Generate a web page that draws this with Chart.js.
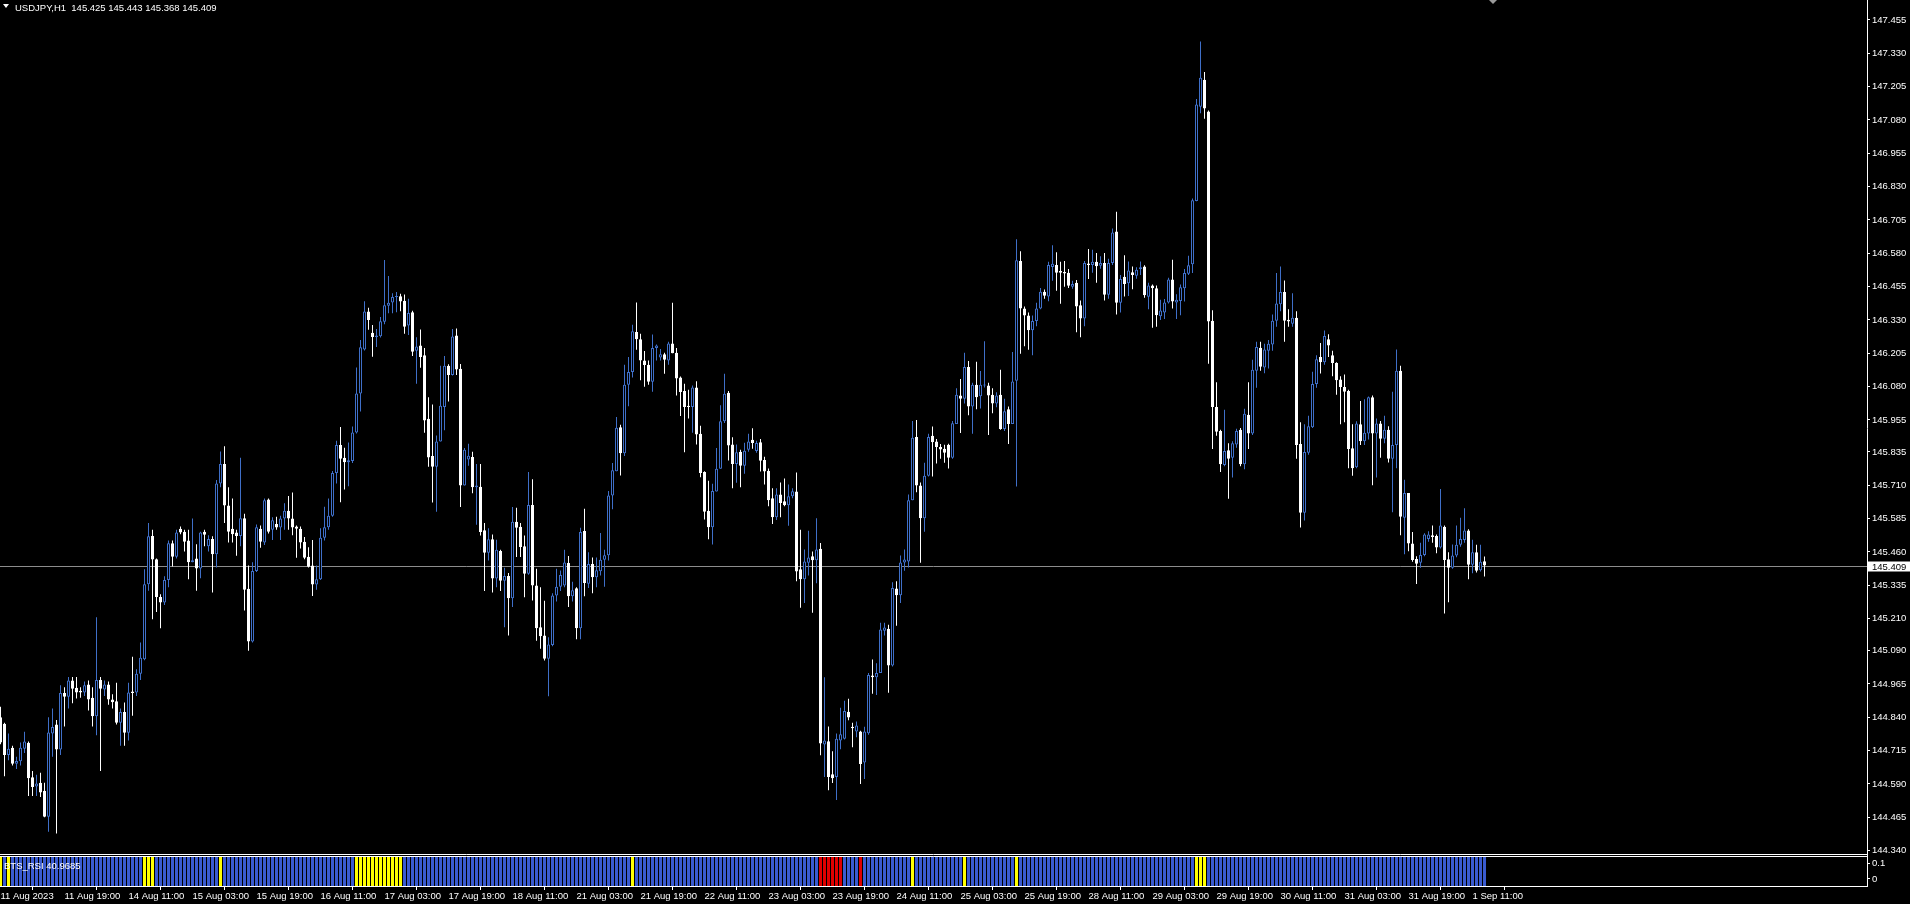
<!DOCTYPE html>
<html>
<head>
<meta charset="utf-8">
<title>USDJPY,H1</title>
<script src="https://cdn.jsdelivr.net/npm/chart.js@4.4.1/dist/chart.umd.min.js"></script>
<style>
  html, body { margin: 0; padding: 0; background: #000; overflow: hidden; }
  #wrap { position: relative; width: 1910px; height: 904px; }
  canvas { position: absolute; left: 0; display: block; }
  #main { top: 0; }
  #ind { top: 856px; }
  .txt { position: absolute; color: #fff; font: 9.5px "Liberation Sans", Arial, sans-serif; white-space: pre; line-height: 12px; z-index: 2; }
  #tri { position: absolute; left: 3px; top: 4px; width: 0; height: 0;
         border-left: 3px solid transparent; border-right: 3px solid transparent; border-top: 4px solid #fff; }
</style>
</head>
<body>
<div id="wrap">
  <canvas id="main" width="1910" height="856"></canvas>
  <canvas id="ind" width="1910" height="48"></canvas>
  <div id="tri"></div>
  <div class="txt" id="title" style="left:15px; top:2px;"></div>
  <div class="txt" id="indName" style="left:4px; top:860px;"></div>
</div>
<script>
/* ===== USDJPY H1 candles + BTS_RSI histogram ===== */

const SYMBOL = 'USDJPY,H1';
const INDICATOR = 'BTS_RSI';
const INDICATOR_VALUE = 40.9685;

const OPEN = [
  144.840, 144.816, 144.699, 144.726, 144.666, 144.675, 144.722, 144.745, 144.615, 144.581,
  144.595, 144.565, 144.467, 144.779, 144.813, 144.719, 144.931, 144.917, 144.978, 144.951,
  144.940, 144.933, 144.963, 144.913, 144.844, 144.980, 144.944, 144.963, 144.907, 144.900,
  144.820, 144.860, 144.782, 144.937, 144.933, 145.003, 145.058, 145.339, 145.520, 145.433,
  145.291, 145.271, 145.355, 145.493, 145.442, 145.547, 145.536, 145.503, 145.422, 145.436,
  145.398, 145.536, 145.482, 145.509, 145.452, 145.717, 145.790, 145.634, 145.547, 145.533,
  145.520, 145.587, 145.322, 145.124, 145.389, 145.547, 145.496, 145.657, 145.543, 145.565,
  145.552, 145.586, 145.615, 145.586, 145.556, 145.547, 145.498, 145.442, 145.409, 145.338,
  145.358, 145.513, 145.553, 145.596, 145.756, 145.861, 145.813, 145.797, 145.801, 145.908,
  146.054, 146.219, 146.362, 146.282, 146.266, 146.269, 146.323, 146.383, 146.396, 146.416,
  146.419, 146.402, 146.309, 146.359, 146.215, 146.234, 146.198, 145.960, 145.820, 145.780,
  145.874, 146.004, 146.158, 146.124, 146.272, 146.147, 145.709, 145.807, 145.816, 145.703,
  145.705, 145.542, 145.457, 145.508, 145.361, 145.464, 145.352, 145.370, 145.287, 145.573,
  145.555, 145.482, 145.378, 145.636, 145.334, 145.178, 145.147, 145.060, 145.111, 145.297,
  145.330, 145.334, 145.419, 145.294, 145.324, 145.174, 145.539, 145.341, 145.415, 145.365,
  145.388, 145.431, 145.448, 145.672, 145.763, 145.928, 145.830, 146.087, 146.135, 146.285,
  146.258, 146.178, 146.162, 146.098, 146.225, 146.189, 146.202, 146.178, 146.242, 146.207,
  146.114, 146.064, 146.008, 146.004, 146.077, 145.903, 145.760, 145.615, 145.553, 145.687,
  145.772, 145.950, 146.057, 145.863, 145.790, 145.836, 145.783, 145.843, 145.881, 145.839,
  145.872, 145.805, 145.765, 145.662, 145.590, 145.676, 145.650, 145.635, 145.669, 145.687,
  145.395, 145.358, 145.420, 145.444, 145.429, 145.472, 144.738, 144.750, 144.627, 144.616,
  144.753, 144.760, 144.861, 144.805, 144.787, 144.787, 144.671, 144.780, 144.997, 144.990,
  145.006, 145.165, 145.172, 145.034, 145.323, 145.298, 145.421, 145.424, 145.654, 145.891,
  145.709, 145.587, 145.746, 145.896, 145.874, 145.854, 145.847, 145.862, 145.813, 145.940,
  146.047, 146.035, 146.154, 146.006, 146.087, 146.044, 146.084, 146.084, 146.050, 146.017,
  146.050, 145.921, 145.995, 145.940, 146.102, 146.551, 146.373, 146.347, 146.292, 146.326,
  146.373, 146.436, 146.418, 146.529, 146.536, 146.514, 146.510, 146.507, 146.455, 146.470,
  146.385, 146.336, 146.542, 146.536, 146.548, 146.533, 146.544, 146.425, 146.544, 146.662,
  146.395, 146.492, 146.468, 146.509, 146.496, 146.521, 146.531, 146.417, 146.459, 146.449,
  146.344, 146.358, 146.396, 146.482, 146.396, 146.401, 146.449, 146.503, 146.539, 146.776,
  147.130, 147.231, 147.112, 146.327, 146.004, 145.914, 145.786, 145.842, 145.813, 145.863,
  145.918, 145.789, 145.975, 145.904, 146.140, 146.226, 146.152, 146.215, 146.238, 146.327,
  146.389, 146.435, 146.331, 146.316, 146.338, 145.865, 145.607, 145.832, 145.928, 146.090,
  146.191, 146.172, 146.258, 146.198, 146.169, 146.107, 146.079, 146.064, 145.849, 145.778,
  145.939, 145.875, 145.904, 146.040, 145.904, 145.942, 145.885, 145.918, 145.810, 145.861,
  146.140, 145.588, 145.681, 145.492, 145.434, 145.420, 145.449, 145.509, 145.523, 145.520,
  145.477, 145.555, 145.433, 145.401, 145.447, 145.487, 145.505, 145.541, 145.412, 145.459,
  145.392, 145.425,
];

const HIGH = [
  144.880, 144.820, 144.779, 144.733, 144.692, 144.746, 144.786, 144.749, 144.639, 144.625,
  144.632, 144.595, 144.840, 144.873, 144.830, 144.960, 144.953, 144.991, 144.991, 144.991,
  144.953, 144.974, 144.978, 144.953, 145.215, 144.991, 144.978, 144.974, 144.927, 144.970,
  144.873, 144.896, 144.970, 145.067, 145.020, 145.121, 145.395, 145.569, 145.543, 145.436,
  145.302, 145.369, 145.503, 145.503, 145.543, 145.556, 145.543, 145.543, 145.586, 145.489,
  145.536, 145.543, 145.523, 145.519, 145.730, 145.837, 145.857, 145.703, 145.661, 145.543,
  145.813, 145.603, 145.409, 145.422, 145.563, 145.559, 145.661, 145.661, 145.590, 145.592,
  145.596, 145.643, 145.670, 145.683, 145.559, 145.556, 145.516, 145.478, 145.505, 145.409,
  145.549, 145.630, 145.661, 145.764, 145.877, 145.929, 145.851, 145.871, 145.931, 146.152,
  146.255, 146.400, 146.376, 146.311, 146.296, 146.341, 146.555, 146.495, 146.430, 146.435,
  146.428, 146.426, 146.410, 146.365, 146.265, 146.294, 146.225, 146.040, 146.013, 145.897,
  146.158, 146.195, 146.164, 146.296, 146.298, 146.165, 145.850, 145.866, 145.836, 145.790,
  145.790, 145.569, 145.549, 145.526, 145.506, 145.468, 145.401, 145.381, 145.629, 145.626,
  145.569, 145.522, 145.760, 145.733, 145.397, 145.328, 145.277, 145.140, 145.305, 145.397,
  145.391, 145.468, 145.445, 145.348, 145.328, 145.551, 145.622, 145.459, 145.439, 145.439,
  145.531, 145.468, 145.689, 145.794, 145.966, 145.937, 146.162, 146.191, 146.312, 146.396,
  146.278, 146.214, 146.178, 146.276, 146.238, 146.221, 146.207, 146.248, 146.395, 146.225,
  146.118, 146.091, 146.068, 146.084, 146.100, 145.933, 145.763, 145.727, 145.716, 145.850,
  146.010, 146.128, 146.064, 145.890, 145.863, 145.843, 145.870, 145.903, 145.924, 145.877,
  145.884, 145.817, 145.773, 145.699, 145.699, 145.721, 145.736, 145.713, 145.699, 145.758,
  145.543, 145.469, 145.540, 145.462, 145.587, 145.494, 144.990, 144.806, 144.713, 144.779,
  144.876, 144.902, 144.910, 144.820, 144.824, 144.790, 144.805, 145.006, 145.057, 145.043,
  145.195, 145.195, 145.187, 145.347, 145.350, 145.447, 145.469, 145.676, 145.951, 145.955,
  145.721, 145.795, 145.903, 145.931, 145.884, 145.865, 145.862, 145.866, 145.951, 146.074,
  146.109, 146.207, 146.176, 146.095, 146.173, 146.139, 146.250, 146.095, 146.074, 146.059,
  146.143, 146.035, 146.006, 146.210, 146.633, 146.588, 146.381, 146.358, 146.347, 146.395,
  146.450, 146.444, 146.548, 146.610, 146.584, 146.548, 146.551, 146.521, 146.477, 146.480,
  146.403, 146.551, 146.596, 146.593, 146.581, 146.569, 146.581, 146.560, 146.673, 146.736,
  146.499, 146.573, 146.549, 146.531, 146.528, 146.549, 146.535, 146.470, 146.463, 146.459,
  146.406, 146.409, 146.488, 146.556, 146.427, 146.463, 146.521, 146.571, 146.786, 147.159,
  147.374, 147.260, 147.116, 146.367, 146.097, 145.918, 145.993, 145.868, 145.875, 145.922,
  145.925, 145.997, 146.097, 146.181, 146.248, 146.248, 146.241, 146.255, 146.351, 146.506,
  146.531, 146.478, 146.370, 146.430, 146.363, 145.947, 145.939, 145.971, 146.136, 146.198,
  146.244, 146.291, 146.277, 146.215, 146.172, 146.119, 146.126, 146.068, 145.939, 145.950,
  146.026, 146.033, 146.043, 146.047, 145.961, 145.951, 145.971, 145.932, 146.061, 146.219,
  146.158, 145.731, 145.681, 145.535, 145.444, 145.495, 145.530, 145.538, 145.559, 145.526,
  145.696, 145.559, 145.459, 145.488, 145.559, 145.588, 145.624, 145.545, 145.506, 145.487,
  145.487, 145.443,
];

const LOW = [
  144.739, 144.619, 144.679, 144.659, 144.646, 144.659, 144.706, 144.545, 144.545, 144.545,
  144.541, 144.465, 144.411, 144.692, 144.404, 144.699, 144.806, 144.873, 144.893, 144.911,
  144.913, 144.920, 144.866, 144.806, 144.773, 144.639, 144.920, 144.887, 144.873, 144.813,
  144.733, 144.733, 144.753, 144.846, 144.920, 144.980, 145.054, 145.315, 145.208, 145.235,
  145.174, 145.261, 145.328, 145.406, 145.436, 145.527, 145.462, 145.358, 145.422, 145.315,
  145.362, 145.482, 145.462, 145.308, 145.402, 145.703, 145.569, 145.496, 145.496, 145.446,
  145.482, 145.241, 145.090, 145.121, 145.385, 145.476, 145.486, 145.529, 145.505, 145.543,
  145.505, 145.543, 145.543, 145.523, 145.438, 145.473, 145.433, 145.402, 145.295, 145.318,
  145.355, 145.503, 145.543, 145.592, 145.717, 145.647, 145.694, 145.707, 145.794, 145.904,
  145.987, 146.216, 146.293, 146.192, 146.229, 146.264, 146.314, 146.355, 146.355, 146.359,
  146.363, 146.278, 146.274, 146.195, 146.091, 146.151, 145.907, 145.780, 145.646, 145.611,
  145.874, 145.917, 146.024, 146.122, 146.124, 145.629, 145.709, 145.783, 145.680, 145.562,
  145.522, 145.314, 145.428, 145.308, 145.328, 145.314, 145.178, 145.147, 145.254, 145.441,
  145.441, 145.290, 145.375, 145.278, 145.127, 145.097, 145.053, 144.919, 145.107, 145.274,
  145.314, 145.328, 145.254, 145.274, 145.133, 145.133, 145.294, 145.325, 145.305, 145.328,
  145.372, 145.330, 145.428, 145.620, 145.763, 145.747, 145.820, 146.007, 146.114, 146.218,
  146.104, 146.080, 146.087, 146.061, 146.178, 146.178, 146.128, 146.162, 146.205, 146.047,
  145.970, 145.834, 145.961, 145.907, 145.863, 145.740, 145.582, 145.508, 145.488, 145.687,
  145.772, 145.944, 145.803, 145.699, 145.720, 145.703, 145.753, 145.836, 145.847, 145.832,
  145.762, 145.713, 145.632, 145.565, 145.580, 145.590, 145.632, 145.558, 145.662, 145.350,
  145.251, 145.269, 145.372, 145.232, 145.343, 144.698, 144.616, 144.567, 144.594, 144.530,
  144.720, 144.757, 144.829, 144.728, 144.765, 144.590, 144.609, 144.775, 144.928, 144.924,
  145.006, 145.147, 144.932, 145.031, 145.183, 145.269, 145.390, 145.402, 145.654, 145.684,
  145.420, 145.536, 145.743, 145.743, 145.792, 145.810, 145.795, 145.773, 145.810, 145.940,
  145.906, 146.017, 145.973, 145.903, 145.995, 145.998, 146.077, 145.899, 145.980, 146.003,
  145.918, 145.914, 145.865, 145.940, 145.706, 146.203, 146.232, 146.218, 146.198, 146.307,
  146.370, 146.410, 146.400, 146.477, 146.440, 146.391, 146.455, 146.450, 146.447, 146.284,
  146.265, 146.307, 146.484, 146.507, 146.470, 146.522, 146.403, 146.410, 146.536, 146.351,
  146.358, 146.418, 146.420, 146.445, 146.485, 146.499, 146.413, 146.370, 146.301, 146.305,
  146.330, 146.334, 146.392, 146.373, 146.334, 146.348, 146.399, 146.499, 146.506, 146.775,
  147.105, 147.085, 146.166, 145.846, 145.896, 145.760, 145.782, 145.660, 145.739, 145.851,
  145.782, 145.770, 145.846, 145.899, 146.076, 146.140, 146.130, 146.148, 146.215, 146.305,
  146.363, 146.248, 146.305, 146.305, 145.810, 145.552, 145.578, 145.825, 145.925, 146.076,
  146.129, 146.162, 146.191, 146.119, 146.050, 145.939, 145.947, 145.774, 145.746, 145.774,
  145.861, 145.861, 145.882, 145.710, 145.739, 145.813, 145.868, 145.796, 145.609, 145.774,
  145.523, 145.452, 145.463, 145.423, 145.340, 145.401, 145.444, 145.498, 145.495, 145.455,
  145.473, 145.229, 145.272, 145.397, 145.440, 145.480, 145.495, 145.358, 145.380, 145.383,
  145.387, 145.368,
];

const CLOSE = [
  144.746, 144.699, 144.722, 144.666, 144.676, 144.726, 144.749, 144.612, 144.579, 144.592,
  144.558, 144.467, 144.783, 144.804, 144.719, 144.931, 144.917, 144.978, 144.947, 144.933,
  144.933, 144.960, 144.907, 144.844, 144.980, 144.947, 144.963, 144.907, 144.897, 144.820,
  144.860, 144.782, 144.933, 144.931, 145.003, 145.063, 145.339, 145.519, 145.432, 145.291,
  145.271, 145.355, 145.493, 145.442, 145.533, 145.533, 145.498, 145.422, 145.429, 145.398,
  145.533, 145.525, 145.509, 145.452, 145.717, 145.790, 145.634, 145.536, 145.527, 145.520,
  145.587, 145.318, 145.124, 145.389, 145.553, 145.498, 145.654, 145.536, 145.579, 145.552,
  145.586, 145.615, 145.586, 145.552, 145.547, 145.496, 145.438, 145.405, 145.338, 145.358,
  145.513, 145.553, 145.596, 145.756, 145.861, 145.810, 145.797, 145.804, 145.908, 146.054,
  146.228, 146.362, 146.330, 146.266, 146.272, 146.325, 146.385, 146.395, 146.416, 146.419,
  146.399, 146.305, 146.356, 146.211, 146.231, 146.191, 145.953, 145.814, 145.780, 145.874,
  146.008, 146.158, 146.124, 146.268, 146.144, 145.709, 145.843, 145.821, 145.703, 145.709,
  145.535, 145.457, 145.508, 145.361, 145.468, 145.352, 145.370, 145.287, 145.573, 145.551,
  145.479, 145.378, 145.636, 145.334, 145.174, 145.144, 145.060, 145.113, 145.297, 145.330,
  145.374, 145.421, 145.294, 145.317, 145.174, 145.535, 145.344, 145.415, 145.365, 145.392,
  145.431, 145.448, 145.672, 145.767, 145.926, 145.830, 146.087, 146.135, 146.288, 146.258,
  146.178, 146.161, 146.098, 146.225, 146.234, 146.202, 146.181, 146.242, 146.205, 146.111,
  146.060, 146.004, 146.004, 146.077, 145.901, 145.756, 145.611, 145.553, 145.689, 145.772,
  145.950, 146.053, 145.859, 145.790, 145.834, 145.783, 145.840, 145.874, 145.869, 145.869,
  145.802, 145.762, 145.654, 145.590, 145.676, 145.644, 145.635, 145.669, 145.688, 145.387,
  145.358, 145.424, 145.439, 145.429, 145.469, 144.742, 144.753, 144.616, 144.612, 144.760,
  144.777, 144.864, 144.839, 144.799, 144.809, 144.665, 144.787, 144.999, 144.990, 145.006,
  145.169, 145.177, 145.034, 145.325, 145.298, 145.421, 145.432, 145.654, 145.888, 145.709,
  145.587, 145.746, 145.891, 145.872, 145.854, 145.844, 145.832, 145.813, 145.943, 146.050,
  146.035, 146.154, 146.006, 146.087, 146.040, 146.087, 146.087, 146.047, 146.017, 146.047,
  145.921, 145.988, 145.940, 146.099, 146.554, 146.373, 146.347, 146.292, 146.326, 146.373,
  146.436, 146.421, 146.536, 146.541, 146.507, 146.507, 146.504, 146.458, 146.465, 146.381,
  146.336, 146.544, 146.536, 146.548, 146.532, 146.544, 146.425, 146.544, 146.658, 146.395,
  146.484, 146.465, 146.516, 146.499, 146.518, 146.528, 146.423, 146.459, 146.449, 146.348,
  146.366, 146.396, 146.482, 146.399, 146.406, 146.453, 146.506, 146.535, 146.779, 147.138,
  147.238, 147.123, 146.324, 146.004, 145.911, 145.789, 145.839, 145.810, 145.868, 145.914,
  145.789, 145.978, 145.904, 146.143, 146.229, 146.155, 146.219, 146.241, 146.327, 146.392,
  146.435, 146.327, 146.324, 146.338, 145.861, 145.607, 145.835, 145.932, 146.090, 146.183,
  146.172, 146.270, 146.234, 146.169, 146.104, 146.079, 146.061, 145.846, 145.774, 145.942,
  145.875, 145.907, 146.040, 145.904, 145.942, 145.885, 145.918, 145.810, 145.861, 146.140,
  145.592, 145.681, 145.492, 145.430, 145.416, 145.449, 145.526, 145.526, 145.516, 145.477,
  145.559, 145.430, 145.401, 145.447, 145.487, 145.509, 145.541, 145.412, 145.459, 145.390,
  145.423, 145.409,
];

// BTS_RSI histogram: bars shown yellow / red, all others blue
const YELLOW_BARS = [0, 2, 36, 37, 38, 55, 89, 90, 91, 92, 93, 94, 95, 96, 97, 98, 99, 100,
  158, 228, 241, 254, 299, 300, 301];
const RED_BARS = [205, 206, 207, 208, 209, 210, 215];

// one time label every 16 bars, starting at bar 0
const TIME_LABELS = [
  '11 Aug 2023', '11 Aug 19:00', '14 Aug 11:00', '15 Aug 03:00', '15 Aug 19:00', '16 Aug 11:00',
  '17 Aug 03:00', '17 Aug 19:00', '18 Aug 11:00', '21 Aug 03:00', '21 Aug 19:00', '22 Aug 11:00',
  '23 Aug 03:00', '23 Aug 19:00', '24 Aug 11:00', '25 Aug 03:00', '25 Aug 19:00', '28 Aug 11:00',
  '29 Aug 03:00', '29 Aug 19:00', '30 Aug 11:00', '31 Aug 03:00', '31 Aug 19:00', '1 Sep 11:00',
];
const LABEL_EVERY = 16;

const PRICE_TICKS = [
  147.455, 147.330, 147.205, 147.080, 146.955, 146.830, 146.705, 146.580, 146.455,
  146.330, 146.205, 146.080, 145.955, 145.835, 145.710, 145.585, 145.460, 145.335,
  145.210, 145.090, 144.965, 144.840, 144.715, 144.590, 144.465, 144.340,
];
const IND_TICKS = [0.1, 0];

// view window (bars / price) as MT4 shows it
const X_MIN = -0.125, X_MAX = 466.625;
const PRICE_MIN = 144.320, PRICE_MAX = 147.530;
const IND_MIN = -0.046, IND_MAX = 0.150;

const C_UP = '#3f6fc8';
const C_DOWN = '#ffffff';
const C_AXIS = '#ffffff';
const HIST_COLORS = ['#3a5bd0', '#ffff00', '#e00000'];
const FONT = { family: 'Liberation Sans', size: 9.5 };

const LAST = OPEN.length - 1;
const isUp = OPEN.map((o, i) => CLOSE[i] >= o);

document.getElementById('title').textContent =
  SYMBOL + '  ' + [OPEN[LAST], HIGH[LAST], LOW[LAST], CLOSE[LAST]].map(v => v.toFixed(3)).join(' ');
document.getElementById('indName').textContent = INDICATOR + ' ' + INDICATOR_VALUE.toFixed(4);

/* ---------- Main price pane ---------- */

const mainPane = {
  id: 'mainPane',
  beforeDatasetsDraw(chart) {
    const { ctx, chartArea, scales: { y } } = chart;
    const py = Math.round(y.getPixelForValue(CLOSE[LAST])) + 0.5;
    ctx.save();
    ctx.strokeStyle = '#8c8c8c';
    ctx.lineWidth = 1;
    ctx.beginPath();
    ctx.moveTo(chartArea.left, py);
    ctx.lineTo(chartArea.right, py);
    ctx.stroke();
    ctx.restore();
  },
  afterDraw(chart) {
    const { ctx, chartArea, scales: { x, y } } = chart;
    const py = Math.round(y.getPixelForValue(CLOSE[LAST])) + 0.5;
    ctx.save();
    // pane bottom border
    ctx.strokeStyle = C_AXIS;
    ctx.lineWidth = 1;
    ctx.beginPath();
    ctx.moveTo(chartArea.left, chartArea.bottom - 1.5);
    ctx.lineTo(chartArea.right, chartArea.bottom - 1.5);
    ctx.stroke();
    // bid label
    ctx.fillStyle = '#ffffff';
    ctx.fillRect(chartArea.right + 1, py - 5, 43, 10);
    ctx.fillStyle = '#000000';
    ctx.font = '9.5px "Liberation Sans"';
    ctx.textBaseline = 'middle';
    ctx.fillText(CLOSE[LAST].toFixed(3), chartArea.right + 5, py + 0.5);
    // chart shift marker
    const sx = Math.round(x.getPixelForValue(LAST + 2));
    ctx.fillStyle = '#9a9a9a';
    ctx.beginPath();
    ctx.moveTo(sx - 4, 0);
    ctx.lineTo(sx + 4, 0);
    ctx.lineTo(sx, 4);
    ctx.closePath();
    ctx.fill();
    ctx.restore();
  },
};

new Chart(document.getElementById('main'), {
  type: 'bar',
  data: {
    datasets: [
      {
        // bodies
        data: OPEN.map((o, i) => ({ x: i, y: [o, CLOSE[i]] })),
        backgroundColor: isUp.map(u => (u ? '#000000' : C_DOWN)),
        borderColor: isUp.map(u => (u ? C_UP : C_DOWN)),
        borderWidth: 1,
        borderSkipped: false,
        barThickness: 3,
        minBarLength: 1,
        grouped: false,
        inflateAmount: 0,
        order: 1,
      },
      {
        // wicks
        data: LOW.map((l, i) => ({ x: i, y: [l, HIGH[i]] })),
        backgroundColor: isUp.map(u => (u ? C_UP : C_DOWN)),
        borderWidth: 0,
        barThickness: 1,
        minBarLength: 1,
        grouped: false,
        inflateAmount: 0,
        order: 2,
      },
    ],
  },
  options: {
    responsive: false,
    animation: false,
    events: [],
    layout: { padding: 0 },
    plugins: { legend: { display: false }, tooltip: { enabled: false } },
    scales: {
      x: { type: 'linear', display: false, min: X_MIN, max: X_MAX, offset: false },
      y: {
        type: 'linear',
        position: 'right',
        min: PRICE_MIN,
        max: PRICE_MAX,
        afterBuildTicks: s => { s.ticks = PRICE_TICKS.map(v => ({ value: v })); },
        afterFit: s => { s.width = 43; s.paddingTop = 0; s.paddingBottom = 0; },
        ticks: { color: C_AXIS, font: FONT, padding: 2, autoSkip: false, callback: v => v.toFixed(3) },
        grid: { drawOnChartArea: false, drawTicks: true, tickLength: 3, tickColor: C_AXIS },
        border: { display: true, color: C_AXIS, width: 1 },
      },
    },
  },
  plugins: [mainPane],
});

/* ---------- Indicator pane + time axis ---------- */

const histState = OPEN.map((_, i) => (RED_BARS.includes(i) ? 2 : YELLOW_BARS.includes(i) ? 1 : 0));

const indFrame = {
  id: 'indFrame',
  afterDraw(chart) {
    const { ctx, chartArea } = chart;
    ctx.save();
    ctx.strokeStyle = C_AXIS;
    ctx.lineWidth = 1;
    ctx.beginPath();
    ctx.moveTo(chartArea.left, chartArea.top + 0.5);
    ctx.lineTo(chartArea.right, chartArea.top + 0.5);
    ctx.stroke();
    ctx.restore();
  },
};

new Chart(document.getElementById('ind'), {
  type: 'bar',
  data: {
    datasets: [{
      data: histState.map((s, i) => ({ x: i, y: IND_MAX })),
      base: IND_MIN,
      backgroundColor: histState.map(s => HIST_COLORS[s]),
      borderWidth: 0,
      barThickness: 3,
      grouped: false,
      inflateAmount: 0,
      clip: 0,
    }],
  },
  options: {
    responsive: false,
    animation: false,
    events: [],
    layout: { padding: 0 },
    plugins: { legend: { display: false }, tooltip: { enabled: false } },
    scales: {
      x: {
        type: 'linear',
        position: 'bottom',
        min: X_MIN,
        max: X_MAX,
        offset: false,
        afterBuildTicks: s => { s.ticks = TIME_LABELS.map((_, k) => ({ value: k * LABEL_EVERY })); },
        afterFit: s => { s.height = 18; s.paddingLeft = 0; s.paddingRight = 0; },
        ticks: {
          color: C_AXIS, font: FONT, padding: 1, align: 'start', maxRotation: 0, autoSkip: false,
          callback: (v, k) => TIME_LABELS[k],
        },
        grid: { drawOnChartArea: false, drawTicks: true, tickLength: 4, tickColor: C_AXIS },
        border: { display: true, color: C_AXIS, width: 1 },
      },
      y: {
        type: 'linear',
        position: 'right',
        min: IND_MIN,
        max: IND_MAX,
        afterBuildTicks: s => { s.ticks = IND_TICKS.map(v => ({ value: v })); },
        afterFit: s => { s.width = 43; s.paddingTop = 0; s.paddingBottom = 0; },
        ticks: { color: C_AXIS, font: FONT, padding: 2, autoSkip: false, callback: v => String(v) },
        grid: { drawOnChartArea: false, drawTicks: true, tickLength: 3, tickColor: C_AXIS },
        border: { display: true, color: C_AXIS, width: 1 },
      },
    },
  },
  plugins: [indFrame],
});
</script>
</body>
</html>
